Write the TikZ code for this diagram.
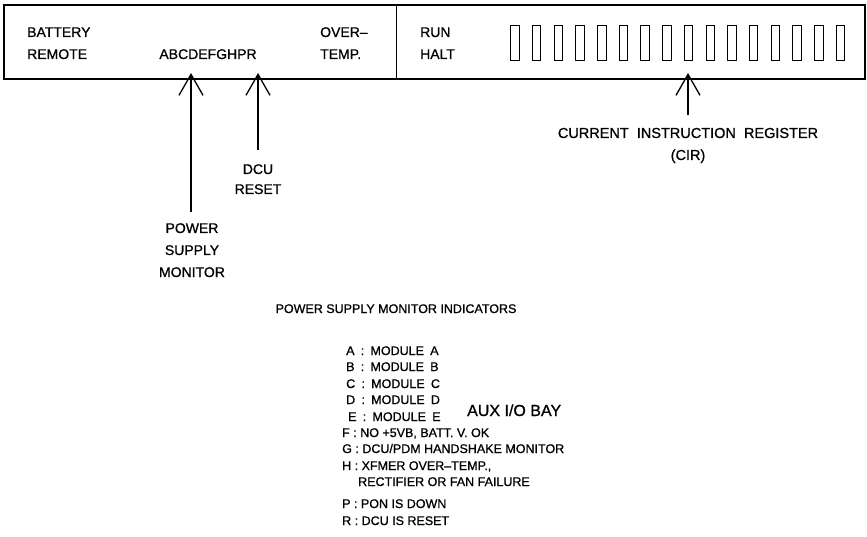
\documentclass[tikz,border=0pt]{standalone}
\usepackage{fontspec}
\setmainfont[FakeBold=0.9]{Liberation Sans}
\usetikzlibrary{arrows.meta}
\tikzset{
  lbl/.style={inner sep=0pt, font=\fontsize{14}{14}\selectfont},
  leg/.style={inner sep=0pt, anchor=base west, font=\fontsize{12.5}{12.5}\selectfont},
  ptr/.style={line width=1.3pt, -{Straight Barb[length=21pt,width=24pt,line width=1.3pt]}},
  regbox/.style={draw, line width=1pt, minimum width=8.5pt, minimum height=35pt, inner sep=0pt},
  panel/.style={draw, line width=1.6pt}
}
\begin{document}
\begin{tikzpicture}[x=1pt,y=-1pt]
\useasboundingbox (0,0) rectangle (867,537);
% panel
\draw[panel] (4,5) rectangle (865,79);
\draw[line width=0.8pt] (396,5) -- (396,79);
% top texts
\node[lbl,anchor=base west] (bat) at (27,37) {BATTERY};
\node[lbl,anchor=base west] (rem) at (27,59) {REMOTE};
\node[lbl,anchor=base] (ind) at (208,59) {ABCDEFGHPR};
\node[lbl,anchor=base west] (ovr) at (320,37) {OVER--};
\node[lbl,anchor=base west] (tmp) at (320,59) {TEMP.};
\node[lbl,anchor=base west] (run) at (420,37) {RUN};
\node[lbl,anchor=base west] (hlt) at (420,59) {HALT};
% register boxes
\foreach \i in {0,...,15}{
  \node[regbox] (r\i) at ({515+21.7*\i},43) {};
}
% arrows
\coordinate (psmtip) at (191,73);
\coordinate (psmend) at (191,212);
\coordinate (dcutip) at (258,73);
\coordinate (dcuend) at (258,150);
\coordinate (cirtip) at (688,73);
\coordinate (cirend) at (688,115);
\draw[ptr] (psmend) -- (psmtip);
\draw[ptr] (dcuend) -- (dcutip);
\draw[ptr] (cirend) -- (cirtip);
% labels
\node[lbl,anchor=base] (dcu) at (258,174) {DCU};
\node[lbl,anchor=base] (rst) at (258,194) {RESET};
\node[lbl,anchor=base] (pw) at (192,233) {POWER};
\node[lbl,anchor=base] (sp) at (192,255) {SUPPLY};
\node[lbl,anchor=base] (mon) at (192,277) {MONITOR};
\node[lbl,anchor=base,font=\fontsize{14.5}{14.5}\selectfont] (cir1) at (688,138) {CURRENT\ \ INSTRUCTION\ \ REGISTER};
\node[lbl,anchor=base,font=\fontsize{14.5}{14.5}\selectfont] (cir2) at (688,160) {(CIR)};
% legend
\node[lbl,anchor=base,font=\fontsize{12.5}{12.5}\selectfont] (title) at (396,313) {POWER SUPPLY MONITOR INDICATORS};
\node[leg] (la) at (346,355) {A\enspace:\enspace MODULE\enspace A};
\node[leg] (lb) at (346,371) {B\enspace:\enspace MODULE\enspace B};
\node[leg] (lc) at (346,388) {C\enspace:\enspace MODULE\enspace C};
\node[leg] (ld) at (346,404) {D\enspace:\enspace MODULE\enspace D};
\node[leg] (le) at (348,421) {E\enspace:\enspace MODULE\enspace E};
\node[leg] (lf) at (342,437) {F : NO +5VB, BATT. V. OK};
\node[leg] (lg) at (342,453) {G : DCU/PDM HANDSHAKE MONITOR};
\node[leg] (lh) at (342,470) {H : XFMER OVER--TEMP.,};
\node[leg] (lh2) at (358,486) {RECTIFIER OR FAN FAILURE};
\node[leg] (lp) at (342,508) {P : PON IS DOWN};
\node[leg] (lr) at (342,525) {R : DCU IS RESET};
\node[inner sep=0pt,anchor=base west,font=\fontsize{16}{16}\selectfont] (aux) at (467,416) {AUX I/O BAY};
\end{tikzpicture}
\end{document}
